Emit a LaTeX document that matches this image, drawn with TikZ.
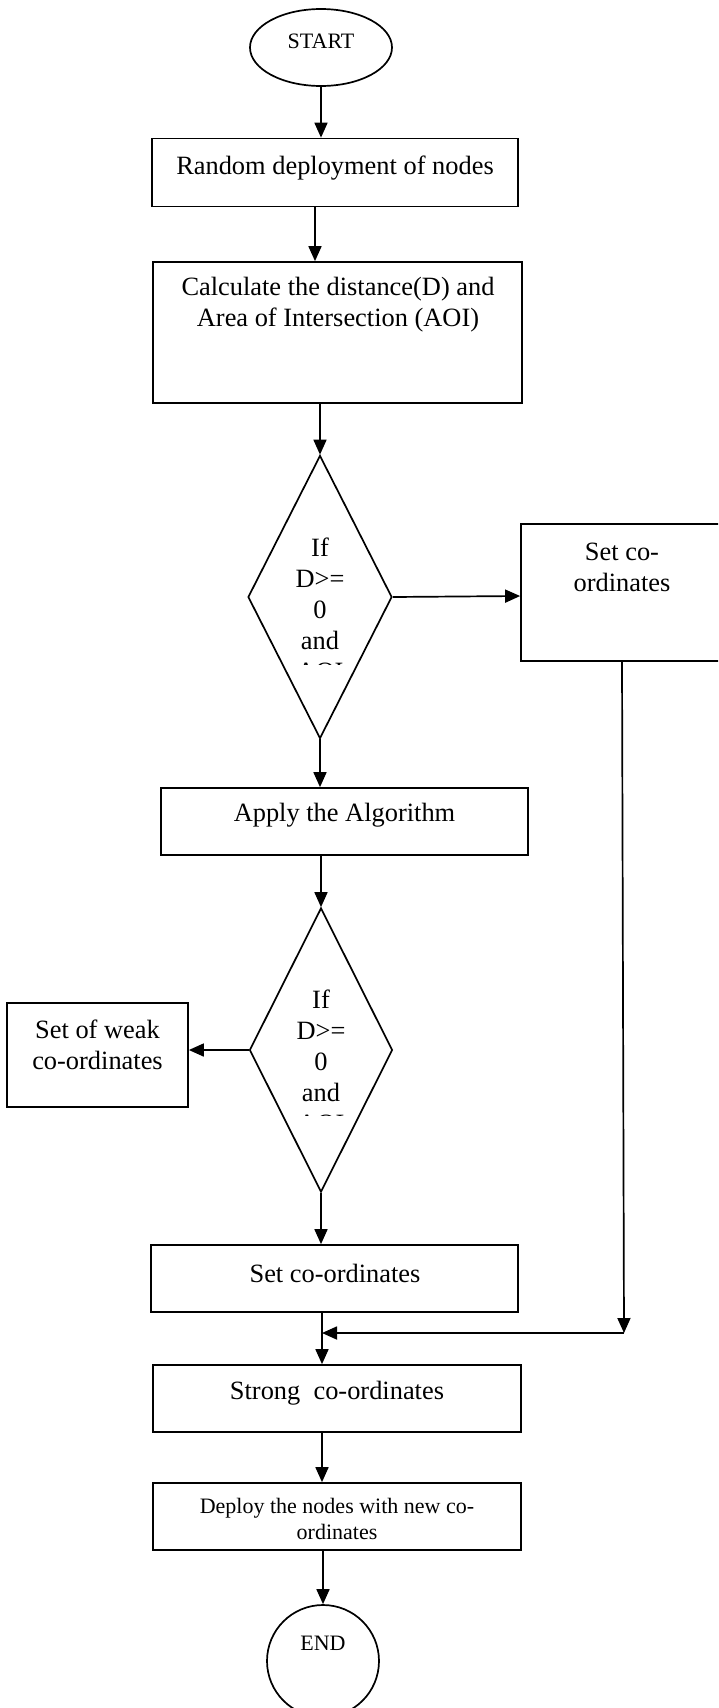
\documentclass[tikz,border=0pt]{standalone}
\usepackage{fontspec}
\setmainfont{Liberation Serif}
\usetikzlibrary{shapes.geometric,arrows.meta}
\begin{document}
\begin{tikzpicture}[x=1pt,y=-1pt,
  ln/.style={line width=1.7pt},
  box/.style={draw, ln, rectangle, inner sep=0pt},
  dia/.style={draw, ln, diamond, inner sep=0pt},
  arr/.style={ln, -{Triangle[length=15pt,width=13pt]}},
  big/.style={inner sep=0pt, align=center, font=\fontsize{26.4}{31}\selectfont},
  small/.style={inner sep=0pt, align=center, font=\fontsize{22}{25.3}\selectfont},
]
\useasboundingbox (0,0) rectangle (718,1708);
\clip (0,0) rectangle (718,1708);
\fill[white] (0,0) rectangle (718,1708);

% shapes
\node[draw, ln, ellipse, inner sep=0pt, minimum width=142pt, minimum height=77pt] (start) at (321,47.5) {};
\node[box, minimum width=366pt, minimum height=68pt] (rand) at (335,172.5) {};
\node[box, minimum width=369pt, minimum height=141pt] (calc) at (337.5,332.5) {};
\node[dia, minimum width=144pt, minimum height=283pt] (d1) at (320,597) {};
\node[box, minimum width=202pt, minimum height=137pt] (setR) at (622,592.5) {};
\node[box, minimum width=367pt, minimum height=67pt] (apply) at (344.5,821.5) {};
\node[dia, minimum width=143pt, minimum height=284pt] (d2) at (321,1050) {};
\node[box, minimum width=181pt, minimum height=104pt] (weak) at (97.5,1055) {};
\node[box, minimum width=367pt, minimum height=67pt] (setc) at (334.5,1278.5) {};
\node[box, minimum width=368pt, minimum height=67pt] (strong) at (337,1398.5) {};
\node[box, minimum width=368pt, minimum height=67pt] (deploy) at (337,1516.5) {};
\node[draw, ln, circle, inner sep=0pt, minimum size=112pt] (end) at (323,1661) {};

% texts
\node[small] (tstart) at (321,41) {START};
\node[big] (trand) at (335,168) {Random deployment of nodes};
\node[big] (tcalc) at (338,305) {Calculate the distance(D) and\\Area of Intersection (AOI)};
\begin{scope}
  \clip (250,455) rectangle (390,664);
  \node[big] (td1) at (320,609) {If\\D>=\\0\\and\\AOI};
\end{scope}
\node[big] (tsetR) at (622,567) {Set co-\\ordinates};
\node[big] (tapply) at (344.5,815) {Apply the Algorithm};
\begin{scope}
  \clip (252,908) rectangle (392,1115);
  \node[big] (td2) at (321,1061) {If\\D>=\\0\\and\\AOI};
\end{scope}
\node[big] (tweak) at (97.5,1045) {Set of weak\\co-ordinates};
\node[big] (tsetc) at (335,1273) {Set co-ordinates};
\node[big] (tstrong) at (337,1393) {Strong\ \ co-ordinates};
\node[small] (tdeploy) at (337,1519) {Deploy the nodes with new co-\\ordinates};
\node[small] (tend) at (323,1643) {END};

% connectors
\coordinate (c1) at (624,1333);
\coordinate (j) at (322,1333);
\draw[arr] (start.south) -- (start.south |- rand.north);
\draw[arr] ([xshift=-20pt]rand.south) -- ([xshift=-20pt]rand.south |- calc.north);
\draw[arr] (d1.north |- calc.south) -- (d1.north);
\draw[arr] (d1.east) -- ([yshift=-3.5pt]setR.west);
\draw[arr] (d1.south) -- (d1.south |- apply.north);
\draw[arr] (d2.north |- apply.south) -- (d2.north);
\draw[arr] (d2.west) -- (d2.west -| weak.east);
\draw[arr] (d2.south) -- (d2.south |- setc.north);
\draw[arr] (setR.south) -- (c1);
\draw[arr] (c1) -- (j);
\draw[arr] (j |- setc.south) -- (j |- strong.north);
\draw[arr] (j |- strong.south) -- (j |- deploy.north);
\draw[arr] (end.north |- deploy.south) -- (end.north);
\end{tikzpicture}
\end{document}
